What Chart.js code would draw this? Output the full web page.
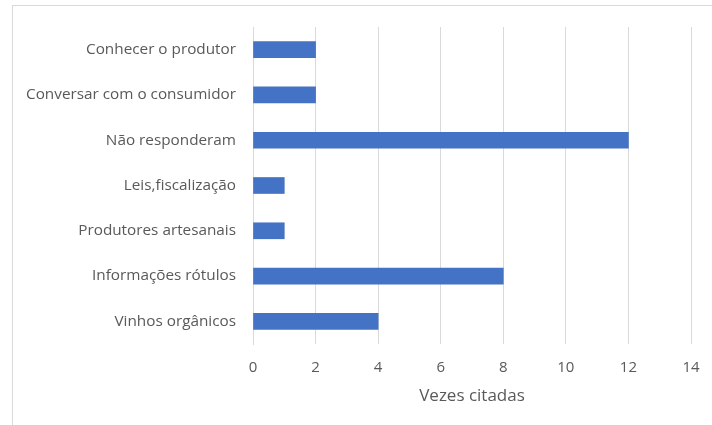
<!DOCTYPE html>
<html>
<head>
<meta charset="utf-8">
<script src="https://cdn.jsdelivr.net/npm/chart.js@4/dist/chart.umd.min.js"></script>
<style>
  html, body { margin: 0; padding: 0; background: #fff; }
  #wrap { position: relative; width: 712px; height: 425px; overflow: hidden; }
  #frame { position: absolute; left: 12px; top: 5px; width: 760px; height: 480px; border: 1px solid #d9d9d9; box-sizing: border-box; }
  canvas { position: absolute; left: 0; top: 0; }
</style>
</head>
<body>
<div id="wrap">
  <div id="frame"></div>
  <canvas id="c" width="712" height="425"></canvas>
</div>
<script>
const categories = [
  "Conhecer o produtor",
  "Conversar com o consumidor",
  "Não responderam",
  "Leis,fiscalização",
  "Produtores artesanais",
  "Informações rótulos",
  "Vinhos orgânicos"
];
const values = [2, 2, 12, 1, 1, 8, 4];
const xTicks = [0, 2, 4, 6, 8, 10, 12, 14];
const axisTitle = "Vezes citadas";

const FONT = "'Open Sans', sans-serif";
const TEXT = "#595959";

new Chart(document.getElementById('c'), {
  type: 'bar',
  data: {
    labels: categories,
    datasets: [{
      data: values,
      backgroundColor: '#4472c4',
      borderWidth: 0,
      barThickness: 16
    }]
  },
  options: {
    indexAxis: 'y',
    responsive: false,
    animation: false,
    devicePixelRatio: 1,
    layout: { padding: { left: 0, top: 27, right: 21, bottom: 0 } },
    plugins: { legend: { display: false }, tooltip: { enabled: false } },
    scales: {
      x: {
        min: 0, max: 14,
        afterBuildTicks: (s) => { s.ticks = xTicks.map(v => ({ value: v })); },
        afterFit: (s) => { s.height = 81; s.paddingRight = 0; s.paddingLeft = 0; },
        grid: { color: '#d9d9d9', drawTicks: false, lineWidth: 1 },
        border: { display: false },
        ticks: { color: TEXT, font: { family: FONT, size: 15 }, padding: 15 },
        title: { display: true, text: axisTitle, color: TEXT, font: { family: FONT, size: 17 }, padding: { top: 0, bottom: 19 } }
      },
      y: {
        afterFit: (s) => { s.width = 253; s.paddingTop = 0; s.paddingBottom = 0; },
        grid: { display: false, drawTicks: false },
        border: { display: true, color: '#d9d9d9' },
        ticks: { color: TEXT, font: { family: FONT, size: 15.3 }, padding: 17 }
      }
    }
  }
});
</script>
</body>
</html>
